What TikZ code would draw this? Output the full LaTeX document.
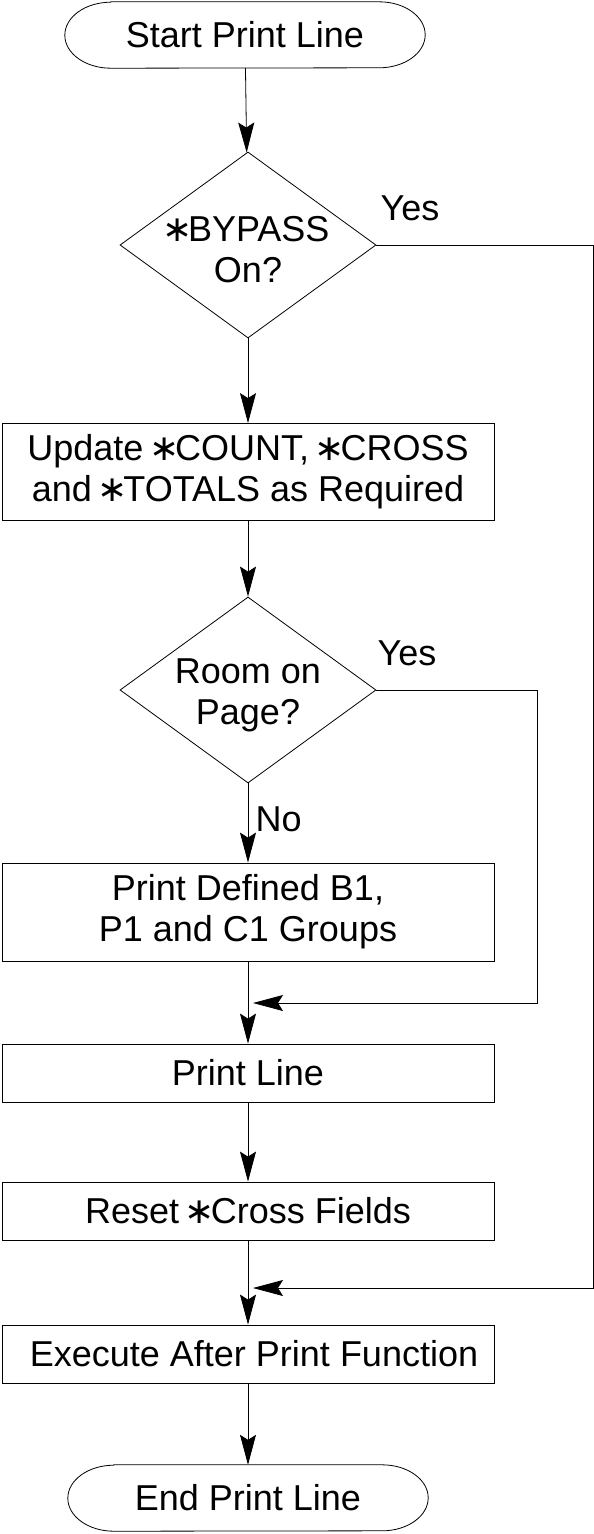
\documentclass[tikz,border=0pt]{standalone}
\usepackage{fontspec}
\setmainfont{Liberation Sans}
\newfontfamily\symfont{DejaVu Sans}
\usetikzlibrary{shapes.geometric,arrows.meta}
\newcommand{\starop}{{\symfont\makebox[0.6em]{∗}}}
\tikzset{
  every node/.style={font=\fontsize{36}{41}\selectfont},
  proc/.style={draw, line width=0.8pt, minimum width=492pt, minimum height=58pt, align=center, inner sep=0pt},
  decision/.style={draw, diamond, line width=0.8pt, minimum width=256pt, minimum height=186pt, inner sep=0pt},
  term/.style={minimum width=268pt, minimum height=66pt, inner sep=0pt},
  arr/.style={line width=0.8pt, -{Stealth[length=30pt,width=16pt,inset=5pt]}},
  line/.style={line width=0.8pt},
}
\begin{document}
\begin{tikzpicture}[x=1pt,y=1pt]
      \useasboundingbox (0,0) rectangle (594,-1534);
      % start and end
      \node[term] (st) at (245,-35) {Start Print Line};
      \draw[line] (st.north west) -- (st.north east) arc[start angle=90,end angle=-90,x radius=46pt,y radius=33pt]
        -- (st.south west) arc[start angle=270,end angle=90,x radius=46pt,y radius=33pt] -- cycle;
      \node[term] (en) at (248,-1498) {End Print Line};
      \draw[line] (en.north west) -- (en.north east) arc[start angle=90,end angle=-90,x radius=46pt,y radius=33pt]
        -- (en.south west) arc[start angle=270,end angle=90,x radius=46pt,y radius=33pt] -- cycle;
      % decisions
      \node[decision] (d1) at (248,-245) {};
      \node[align=center] (d1t) at (248,-250) {\starop BYPASS\\On?};
      \node[decision] (d2) at (248,-690) {};
      \node[align=center] (d2t) at (248,-695) {Room on\\Page?};
      % boxes
      \node[proc, minimum height=97pt] (up) at (248,-472) {Update \starop COUNT, \starop CROSS\\and \starop TOTALS as Required};
      \node[proc, minimum height=98pt] (pd) at (248,-912) {Print Defined B1,\\P1 and C1 Groups};
      \node[proc] (pl) at (248,-1073) {Print Line};
      \node[proc] (rs) at (248,-1211) {Reset \starop Cross Fields};
      \node[proc] (ex) at (248,-1354) {\hspace{12pt}Execute After Print Function};
      % labels
      \node (y1) at (410,-208) {Yes};
      \node (y2) at (407,-653) {Yes};
      \node[anchor=west] (no) at (252,-819) {No};
      \coordinate (j1) at (253,-1003);
      \coordinate (j2) at (253,-1288);
      \coordinate (r1) at (537,-1003);
      \coordinate (r2) at (593,-1288);
      \foreach \a/\b in {st/d1,d1/up,up/d2,d2/pd,pd/pl,pl/rs,rs/ex,ex/en}
      {\draw[arr] (\a) -- (\b);}
      \draw[arr] (d2.east) -| (r1) -- (j1);
      \draw[arr] (d1.east) -| (r2) -- (j2);
    \end{tikzpicture}
\end{document}
